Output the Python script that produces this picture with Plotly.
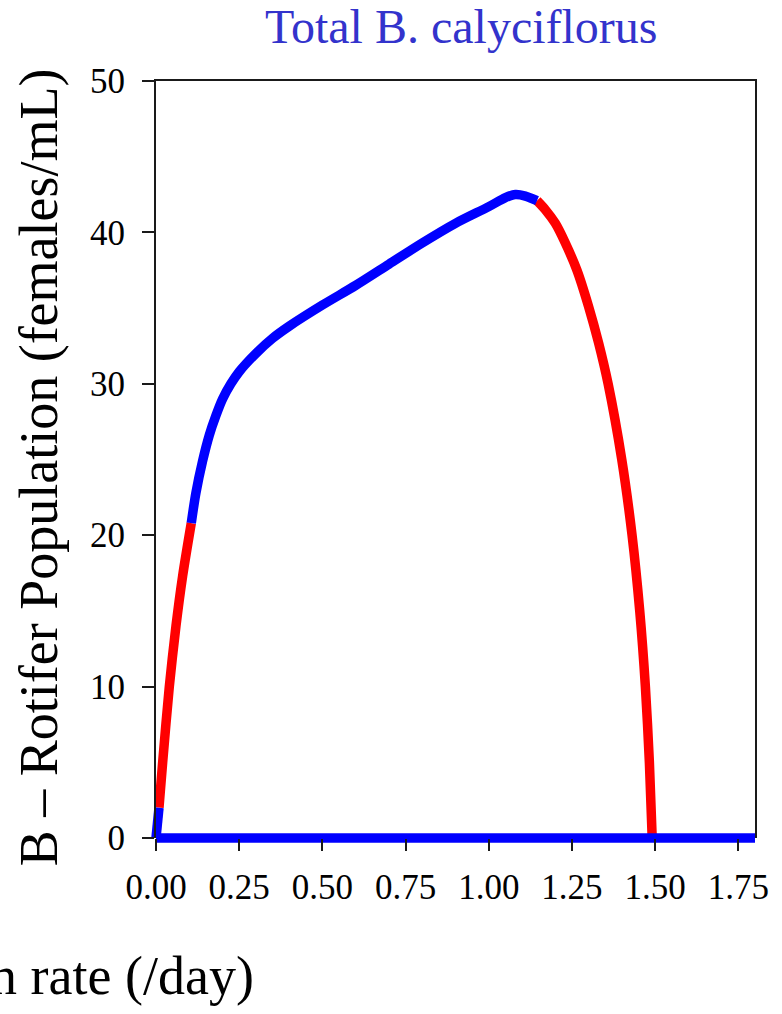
import plotly.graph_objects as go

# ---- data ----
# blue: small initial rise
rise_x = [0.0, 0.009]
rise_y = [0.0, 2.0]
# red: unstable rising branch
red1_x = [0.009, 0.020, 0.040, 0.060, 0.080, 0.106]
red1_y = [2.0, 5.0, 10.0, 14.0, 17.3, 20.8]
# blue: stable upper branch
blue_x = [0.106, 0.12, 0.14, 0.16, 0.18, 0.20, 0.225, 0.25, 0.30, 0.35, 0.40,
          0.50, 0.60, 0.70, 0.80, 0.90, 1.00, 1.05, 1.08, 1.11, 1.145]
blue_y = [20.8, 22.8, 24.9, 26.6, 27.9, 29.0, 30.0, 30.8, 32.0, 33.0, 33.8,
          35.2, 36.5, 37.9, 39.3, 40.6, 41.7, 42.3, 42.5, 42.4, 42.1]
# red: unstable falling branch
red2_x = [1.145, 1.17, 1.20, 1.23, 1.265, 1.30, 1.33, 1.3586, 1.3996, 1.4306, 1.4536, 1.4706, 1.4826, 1.4911]
red2_y = [42.1, 41.5, 40.6, 39.3, 37.5, 35.1, 32.7, 30.0, 25.0, 20.0, 15.0, 10.0, 5.0, 0.0]
# blue: zero (washout) branch
zero_x = [0.0, 1.8]
zero_y = [0.0, 0.0]

x_ticks = [0, 0.25, 0.5, 0.75, 1.0, 1.25, 1.5, 1.75]
x_ticklabels = ["0.00", "0.25", "0.50", "0.75", "1.00", "1.25", "1.50", "1.75"]
y_ticks = [0, 10, 20, 30, 40, 50]
x_range = [0, 1.8]
y_range = [0, 50]

RED = "#FF0000"
BLUE = "#0000FF"
LW = 9.5
FONT = "Liberation Serif, Times New Roman, serif"
AX = "#1a1a1a"

# figure geometry: data subplot slightly larger than the visible box so thick lines are not clipped
W, H = 782, 1014
ML, MR, MT, MB = 146, 17, 71, 166
PAD = 10
pw, ph = W - ML - MR, H - MT - MB
dx = [PAD / pw, 1 - PAD / pw]
dy = [PAD / ph, 1 - PAD / ph]
xs_per_px = (x_range[1] - x_range[0]) / (pw - 2 * PAD)
ys_per_px = (y_range[1] - y_range[0]) / (ph - 2 * PAD)
data_xr = [x_range[0] - PAD * xs_per_px, x_range[1] + PAD * xs_per_px]
data_yr = [y_range[0] - PAD * ys_per_px, y_range[1] + PAD * ys_per_px]

fig = go.Figure()
for xs, ys in [(red1_x, red1_y), (red2_x, red2_y)]:
    fig.add_trace(go.Scatter(x=xs, y=ys, mode="lines",
                             line=dict(color=RED, width=LW, shape="spline", smoothing=0.8),
                             hoverinfo="skip", showlegend=False))
for xs, ys in [(rise_x, rise_y), (blue_x, blue_y), (zero_x, zero_y)]:
    fig.add_trace(go.Scatter(x=xs, y=ys, mode="lines",
                             line=dict(color=BLUE, width=LW, shape="spline", smoothing=0.8),
                             hoverinfo="skip", showlegend=False))
# dummy traces for the visible axes frame
fig.add_trace(go.Scatter(x=[], y=[], xaxis="x2", yaxis="y2", showlegend=False, hoverinfo="skip"))
fig.add_trace(go.Scatter(x=[], y=[], xaxis="x3", yaxis="y2", showlegend=False, hoverinfo="skip"))

tickfont = dict(family=FONT, size=35, color="black")

fig.update_layout(
    width=W, height=H,
    margin=dict(l=ML, r=MR, t=MT, b=MB, autoexpand=False),
    plot_bgcolor="rgba(0,0,0,0)", paper_bgcolor="white",
    xaxis=dict(domain=[0, 1], range=data_xr, visible=False, fixedrange=True, automargin=False),
    yaxis=dict(domain=[0, 1], range=data_yr, visible=False, fixedrange=True, automargin=False),
    xaxis2=dict(domain=dx, range=x_range, anchor="y2", showline=False, automargin=False,
                ticks="outside", ticklen=12, tickwidth=2, tickcolor=AX,
                tickvals=x_ticks, ticktext=x_ticklabels, tickfont=tickfont,
                ticklabelstandoff=6, showgrid=False, zeroline=False),
    xaxis3=dict(domain=dx, range=x_range, anchor="y2", overlaying="x2", side="top", automargin=False,
                showline=True, linecolor=AX, linewidth=2, ticks="", showticklabels=False,
                showgrid=False, zeroline=False),
    yaxis2=dict(domain=dy, range=y_range, anchor="x2", showline=True, mirror=True, automargin=False,
                linecolor=AX, linewidth=2,
                ticks="outside", ticklen=12, tickwidth=2, tickcolor=AX,
                tickvals=y_ticks, tickfont=tickfont, ticklabelstandoff=10,
                showgrid=False, zeroline=False),
    annotations=[
        dict(text="Total B. calyciflorus", xref="paper", yref="paper", x=0.5097, y=1.0573,
             showarrow=False, xanchor="center", yanchor="middle",
             font=dict(family=FONT, size=48, color="#3333CC")),
        dict(text="B \u2013 Rotifer Population (females/mL)", xref="paper", yref="paper",
             x=-0.1725, y=0.4902, textangle=-90, showarrow=False, xanchor="center", yanchor="middle",
             font=dict(family=FONT, size=54, color="black")),
        dict(text="Dilution rate (/day)", xref="paper", yref="paper", x=-0.1628, y=-0.1644,
             showarrow=False, xanchor="center", yanchor="middle",
             font=dict(family=FONT, size=54, color="black")),
    ],
)

fig.write_html("out.html")
